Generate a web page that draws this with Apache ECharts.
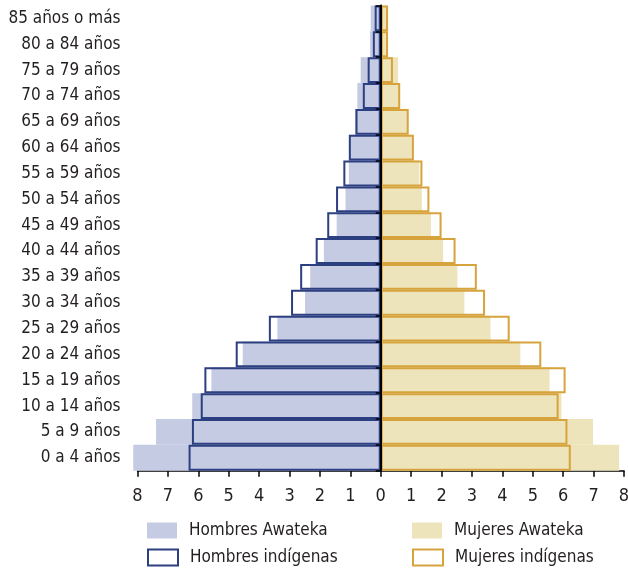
<!DOCTYPE html>
<html>
<head>
<meta charset="utf-8">
<script src="https://cdn.jsdelivr.net/npm/echarts@6/dist/echarts.min.js"></script>
<style>
    html, body { margin: 0; padding: 0; background: #fff; }
    #chart { width: 628px; height: 575px; }
</style>
</head>
<body>
<div id="chart"></div>
<script>
// grupos de edad, de abajo hacia arriba
var categories = ['0 a 4 años', '5 a 9 años', '10 a 14 años', '15 a 19 años', '20 a 24 años',
    '25 a 29 años', '30 a 34 años', '35 a 39 años', '40 a 44 años', '45 a 49 años',
    '50 a 54 años', '55 a 59 años', '60 a 64 años', '65 a 69 años', '70 a 74 años',
    '75 a 79 años', '80 a 84 años', '85 años o más'];

// porcentajes
var hombresAwateka = [8.14, 7.39, 6.20, 5.57, 4.54, 3.40, 2.49, 2.32, 1.87, 1.45, 1.16, 1.05, 1.02, 0.85, 0.77, 0.66, 0.35, 0.33];
var hombresIndigenas = [6.32, 6.21, 5.92, 5.80, 4.77, 3.68, 2.95, 2.65, 2.14, 1.76, 1.47, 1.23, 1.05, 0.83, 0.59, 0.43, 0.26, 0.20];
var mujeresAwateka = [7.84, 6.98, 5.94, 5.55, 4.59, 3.61, 2.75, 2.52, 2.05, 1.65, 1.35, 1.27, 1.05, 0.88, 0.60, 0.57, 0.22, 0.22];
var mujeresIndigenas = [6.25, 6.14, 5.85, 6.08, 5.28, 4.24, 3.43, 3.16, 2.46, 2.00, 1.60, 1.37, 1.09, 0.92, 0.64, 0.40, 0.24, 0.24];

var fontName = "'DejaVu Sans Condensed', 'Liberation Sans Narrow', sans-serif";
var colorTexto = '#231f20';

function negar(arr) {
    return arr.map(function (v) { return -v; });
}

// una leyenda por serie, para ubicarlas como en el original
function leyenda(nombre, x, y) {
    return {
        left: x,
        top: y,
        padding: 0,
        itemWidth: 30,
        itemHeight: 16,
        icon: 'rect',
        textStyle: { fontFamily: fontName, fontSize: 17, color: colorTexto, padding: [0, 0, 0, 7] },
        data: [nombre]
    };
}

var chart = echarts.init(document.getElementById('chart'));
var option = {
    animation: false,
    textStyle: { fontFamily: fontName },
    grid: {
        left: 137.5,
        right: 4,
        top: 5.5,
        bottom: 104.3,
        containLabel: false,
        outerBoundsMode: 'none'
    },
    legend: [
        leyenda('Hombres Awateka', 147, 522),
        leyenda('Hombres indígenas', 147, 548.5),
        leyenda('Mujeres Awateka', 412, 522),
        leyenda('Mujeres indígenas', 412, 548.5)
    ],
    xAxis: {
        type: 'value',
        min: -8,
        max: 8,
        interval: 1,
        axisLine: { show: true, lineStyle: { color: '#000', width: 1.5 } },
        axisTick: { show: true, length: 6, lineStyle: { color: '#000', width: 1.5 } },
        splitLine: { show: false },
        axisLabel: {
            fontFamily: fontName,
            fontSize: 18,
            color: colorTexto,
            margin: 17,
            formatter: function (v) { return Math.abs(v); }
        }
    },
    yAxis: [
        {
            type: 'category',
            data: categories,
            position: 'left',
            axisLine: { show: false, onZero: false },
            axisTick: { show: false },
            axisLabel: { fontFamily: fontName, fontSize: 17, color: colorTexto, margin: 17 }
        },
        {
            type: 'category',
            data: categories,
            position: 'left',
            z: 10,
            axisLine: { show: true, onZero: true, lineStyle: { color: '#000', width: 2 } },
            axisTick: { show: true, length: 5, lineStyle: { color: '#000', width: 1.5 } },
            axisLabel: { show: false }
        }
    ],
    series: [
        {
            name: 'Hombres Awateka',
            type: 'bar',
            clip: false,
            barCategoryGap: '0%',
            barGap: '-100%',
            itemStyle: { color: '#c5cbe3' },
            data: negar(hombresAwateka)
        },
        {
            name: 'Mujeres Awateka',
            type: 'bar',
            clip: false,
            barCategoryGap: '0%',
            barGap: '-100%',
            itemStyle: { color: '#eee4bb' },
            data: mujeresAwateka
        },
        {
            name: 'Hombres indígenas',
            type: 'bar',
            clip: false,
            barCategoryGap: '0%',
            barGap: '-100%',
            itemStyle: { color: 'rgba(255,255,255,0)', borderColor: '#2c3f80', borderWidth: 2 },
            data: negar(hombresIndigenas)
        },
        {
            name: 'Mujeres indígenas',
            type: 'bar',
            clip: false,
            barCategoryGap: '0%',
            barGap: '-100%',
            itemStyle: { color: 'rgba(255,255,255,0)', borderColor: '#d6a33c', borderWidth: 2 },
            data: mujeresIndigenas
        }
    ]
};
chart.setOption(option);
</script>
</body>
</html>
